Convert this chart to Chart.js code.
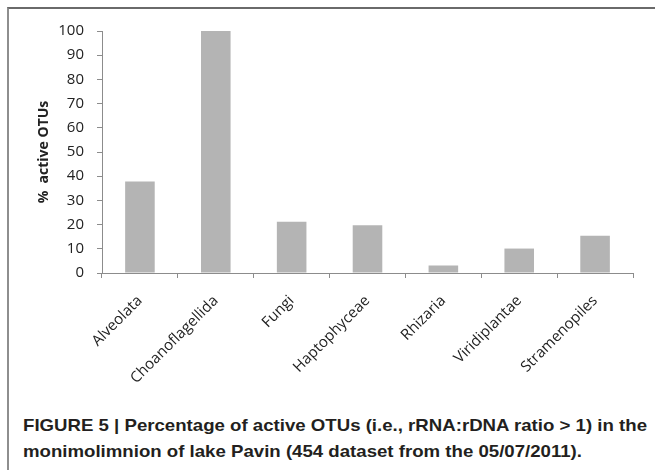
<!DOCTYPE html>
<html>
<head>
<meta charset="utf-8">
<script src="https://cdn.jsdelivr.net/npm/chart.js@4/dist/chart.umd.min.js"></script>
<style>
  html, body { margin: 0; padding: 0; background: #ffffff; }
  body { width: 655px; height: 470px; position: relative; overflow: hidden; }
  #frame { position: absolute; left: 7px; top: 7px; width: 700px; height: 500px;
           border-left: 2px solid #8e8e8e; border-top: 2px solid #6a6a6a; box-sizing: border-box; }
  #wrap { position: absolute; left: 0; top: 0; width: 655px; height: 400px; }
  #caption { position: absolute; left: 23px; top: 413px; font-family: "Liberation Sans Narrow", "Liberation Sans", Arial, sans-serif;
             font-weight: bold; font-size: 17px; line-height: 26px; color: #231f20; }
  #caption div { white-space: nowrap; transform-origin: 0 0; }
</style>
</head>
<body>
<div id="frame"></div>
<div id="wrap"><canvas id="c" width="655" height="400"></canvas></div>
<div id="caption">
  <div id="cap1">FIGURE 5 | Percentage of active OTUs (i.e., rRNA:rDNA ratio &gt; 1) in the</div>
  <div id="cap2">monimolimnion of lake Pavin (454 dataset from the 05/07/2011).</div>
</div>
<script>
const categories = ["Alveolata", "Choanoflagellida", "Fungi", "Haptophyceae", "Rhizaria", "Viridiplantae", "Stramenopiles"];
const activeOTUs = [37.8, 100, 21.2, 19.7, 3.1, 10.1, 15.4];
const yTicks = [0, 10, 20, 30, 40, 50, 60, 70, 80, 90, 100];
const yTitle = "%  active OTUs";

// fit caption to measured width of the reference
(function () {
  const c1 = document.getElementById('cap1');
  const c2 = document.getElementById('cap2');
  c1.style.display = 'inline-block';
  const w = c1.getBoundingClientRect().width;
  const s = 624 / w;
  c1.style.display = 'block';
  c1.style.transform = 'scaleX(' + s + ')';
  c2.style.transform = 'scaleX(' + s + ')';
})();

Chart.defaults.font.family = '"Open Sans", sans-serif';
new Chart(document.getElementById('c'), {
  type: 'bar',
  data: {
    labels: categories,
    datasets: [{
      data: activeOTUs,
      backgroundColor: '#b4b4b4',
      borderWidth: 0,
      barPercentage: 0.39,
      categoryPercentage: 1.0
    }]
  },
  options: {
    responsive: false,
    animation: false,
    events: [],
    layout: { padding: { left: 0, right: 22, top: 31, bottom: 0 } },
    plugins: { legend: { display: false }, tooltip: { enabled: false } },
    scales: {
      x: {
        grid: { display: true, drawOnChartArea: false, drawTicks: true, tickLength: 5, color: '#8c8c8c', offset: true },
        border: { display: true, color: '#8c8c8c', width: 1 },
        ticks: { minRotation: 45, maxRotation: 45, autoSkip: false, padding: 14, color: '#222222',
                 font: { size: 15 } },
        afterFit: (s) => { s.height = 400 - 273; }
      },
      y: {
        min: 0, max: 100,
        afterBuildTicks: (s) => { s.ticks = yTicks.map(v => ({ value: v })); },
        grid: { display: true, drawOnChartArea: false, drawTicks: true, tickLength: 5, color: '#8c8c8c' },
        border: { display: true, color: '#8c8c8c', width: 1 },
        ticks: { padding: 13, color: '#222222', font: { size: 15 } },
        title: { display: true, text: yTitle, color: '#222222', font: { size: 14, weight: 'bold' }, padding: { top: 36, bottom: 0 } },
        afterFit: (s) => { s.width = 102; }
      }
    }
  }
});
</script>
</body>
</html>
